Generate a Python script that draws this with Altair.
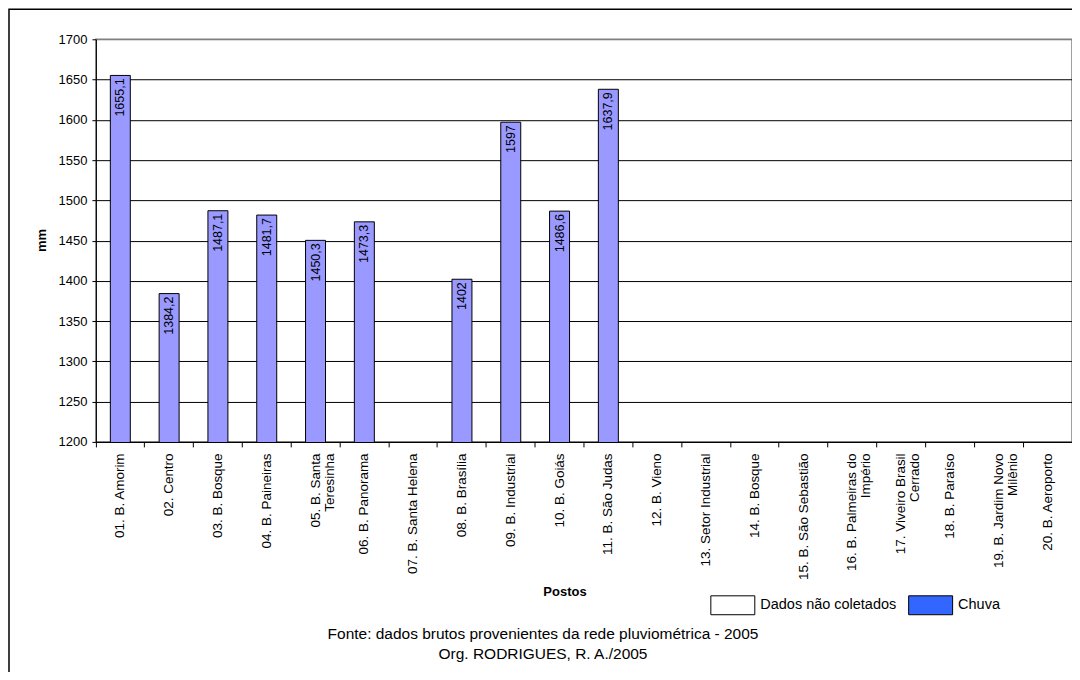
import altair as alt
import pandas as pd

postos = [
    "01. B. Amorim", "02. Centro", "03. B. Bosque", "04. B. Paineiras",
    "05. B. Santa|Teresinha", "06. B. Panorama", "07. B. Santa Helena",
    "08. B. Brasília", "09. B. Industrial", "10. B. Goiás", "11. B. São Judas",
    "12. B. Vieno", "13. Setor Industrial", "14. B. Bosque",
    "15. B. São Sebastião", "16. B. Palmeiras do|Império",
    "17. Viveiro Brasil|Cerrado", "18. B. Paraíso",
    "19. B. Jardim Novo|Milênio", "20. B. Aeroporto",
]
chuva = [1655.1, 1384.2, 1487.1, 1481.7, 1450.3, 1473.3, None, 1402.0,
         1597.0, 1486.6, 1637.9, None, None, None, None, None, None, None,
         None, None]
rotulos = ["1655,1", "1384,2", "1487,1", "1481,7", "1450,3", "1473,3", "",
           "1402", "1597", "1486,6", "1637,9", "", "", "", "", "", "", "",
           "", ""]
legenda = ["Dados não coletados", "Chuva"]
legenda_cores = ["white", "#3366FF"]
y_ticks = list(range(1200, 1701, 50))
fonte = ["Fonte: dados brutos provenientes da rede pluviométrica - 2005",
         "Org. RODRIGUES, R. A./2005"]

df = pd.DataFrame({"posto": postos, "chuva": chuva, "rotulo": rotulos})
df_leg = pd.DataFrame({"serie": legenda, "posto": [postos[0]] * 2,
                       "base": [1200, 1200]})

FONT = "Liberation Sans"

x_enc = alt.X(
    "posto:N", sort=postos,
    scale=alt.Scale(paddingInner=0, paddingOuter=0),
    axis=alt.Axis(
        title="Postos", titleFontWeight="bold", titleFontSize=13,
        titleX=469, titleY=150, titleBaseline="middle", titleAlign="center",
        labelAngle=270, labelAlign="right", labelBaseline="middle",
        labelExpr="split(datum.label, '|')", labelLineHeight=14,
        labelFontSize=13.5, labelPadding=6, labelOverlap=False,
        labelLimit=300, tickSize=5, bandPosition=0,
        domainColor="black", tickColor="black", labelColor="black",
        grid=False,
    ),
)
y_enc = alt.Y(
    "chuva:Q",
    scale=alt.Scale(domain=[1200, 1700], nice=False, zero=False),
    axis=alt.Axis(
        values=y_ticks, format="d", title="mm", titleFontWeight="bold",
        titleFontSize=13, titleAngle=270, titleX=-54, titleY=201,
        titleAlign="center", titleBaseline="middle", labelFontSize=13,
        labelPadding=5, tickSize=4,
        domainColor="black", tickColor="black", labelColor="black",
        grid=True,
        gridColor=alt.condition("datum.value >= 1700", alt.value("#808080"),
                                alt.value("black")),
    ),
)

bars = alt.Chart(df).mark_bar(
    size=20, fill="#9999FF", stroke="black", strokeWidth=1, clip=True
).encode(x=x_enc, y=y_enc)

labels = alt.Chart(df).mark_text(
    angle=270, align="right", baseline="middle", dx=-3, fontSize=12.5,
    font=FONT, color="black"
).encode(x=alt.X("posto:N", sort=postos), y="chuva:Q", text="rotulo:N")

leg = alt.Chart(df_leg).mark_bar(size=20, strokeWidth=0).encode(
    x=alt.X("posto:N", sort=postos),
    y="base:Q", y2="base:Q",
    fill=alt.Fill(
        "serie:N",
        scale=alt.Scale(domain=legenda, range=legenda_cores),
        legend=alt.Legend(
            title=None, orient="none", legendX=615, legendY=544,
            direction="horizontal", columns=2,
            symbolType="M-1,-0.43H1V0.43H-1Z", symbolSize=1936,
            symbolStrokeColor="black", symbolStrokeWidth=1,
            symbolOpacity=1,
            labelFontSize=14.5, labelFont=FONT, labelColor="black",
            labelOffset=5, columnPadding=9, labelLimit=300,
        ),
    ),
)

border = alt.Chart(df.head(1)).mark_rect(
    fill=None, stroke="black", strokeWidth=1.5, clip=False
).encode(
    x=alt.value(-87), x2=alt.value(1100), y=alt.value(-30), y2=alt.value(700)
)

chart = alt.layer(border, bars, labels, leg).properties(
    width=977, height=403,
    padding={"left": 88, "top": 31, "right": 0, "bottom": 230},
    autosize=alt.AutoSizeParams(type="none"),
    title=alt.TitleParams(
        text=fonte, orient="top", anchor="middle", frame="group",
        baseline="top", fontSize=15.5, fontWeight="normal", font=FONT,
        lineHeight=20, offset=0, dx=-41, dy=655, color="black",
    ),
).configure(font=FONT).configure_view(
    stroke="#808080", strokeWidth=1.5
).configure_axis(labelFont=FONT, titleFont=FONT)

chart.save("out.html", embed_options={"renderer": "svg", "actions": False})
